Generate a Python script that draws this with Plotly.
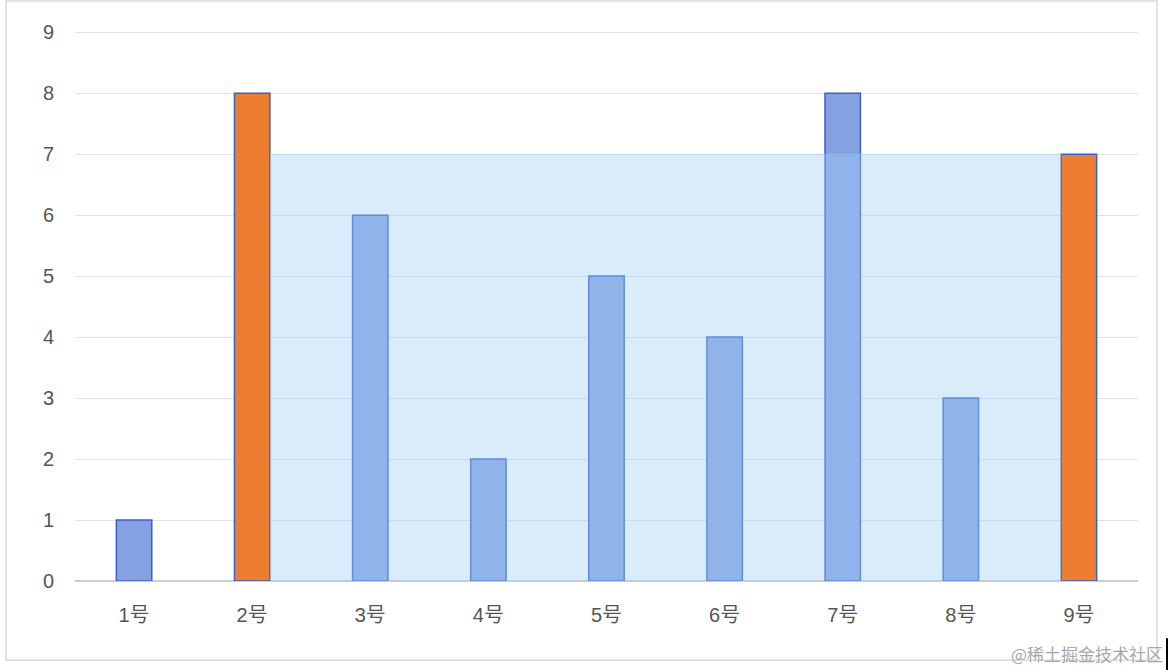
import plotly.graph_objects as go

categories = ["1号", "2号", "3号", "4号", "5号", "6号", "7号", "8号", "9号"]
heights = [1, 8, 6, 2, 5, 4, 8, 3, 7]
left_idx = 1
right_idx = 8
y_ticks = [0, 1, 2, 3, 4, 5, 6, 7, 8, 9]

BAR_W = 0.3
blue_fill = "#86a1e2"
blue_line = "#3a5fcc"
orange = "#ed7d31"

xs = list(range(len(categories)))
colors = [orange if i in (left_idx, right_idx) else blue_fill for i in xs]

fig = go.Figure()
fig.add_trace(go.Bar(
    x=xs, y=heights, width=BAR_W,
    marker=dict(color=colors, line=dict(color=blue_line, width=1.5)),
    hoverinfo="skip", showlegend=False,
))

# water area between the two chosen bars
level = min(heights[left_idx], heights[right_idx])
xa = [left_idx + BAR_W / 2, right_idx - BAR_W / 2]
fig.add_trace(go.Scatter(
    x=xa, y=[level, level], mode="lines",
    line=dict(color="rgba(150,200,240,0.35)", width=1),
    fill="tozeroy", fillcolor="rgba(160,208,244,0.40)",
    hoverinfo="skip", showlegend=False,
))

font_family = "'Liberation Sans', Arial, 'Noto Sans CJK SC', sans-serif"

fig.update_layout(
    width=1172, height=670,
    margin=dict(l=75, r=34, t=31, b=89),
    paper_bgcolor="white", plot_bgcolor="white",
    font=dict(family=font_family, size=20, color="#555555"),
    xaxis=dict(
        range=[-0.5, len(categories) - 0.5],
        tickmode="array", tickvals=xs, ticktext=categories,
        showgrid=False, zeroline=False,
        showline=False, ticks="",
        tickfont=dict(size=20, color="#555555"),
        ticklabelstandoff=20,
    ),
    yaxis=dict(
        range=[0, 9.02], tickmode="array", tickvals=y_ticks,
        showgrid=True, gridcolor="#e3e3e3", gridwidth=1,
        zeroline=True, zerolinecolor="#cccccc", zerolinewidth=1.5,
        ticks="", ticklen=0, tickfont=dict(size=20, color="#555555"),
        ticklabelstandoff=20,
    ),
    shapes=[
        dict(type="rect", xref="paper", yref="paper",
             x0=-0.0649, x1=1.0179, y0=-0.1439, y1=1.0546,
             line=dict(color="#d9d9d9", width=1.5), fillcolor="rgba(0,0,0,0)",
             layer="below"),
        dict(type="line", xref="paper", yref="paper",
             x0=1.0273, x1=1.0273, y0=-0.104, y1=-0.162,
             line=dict(color="black", width=2)),
    ],
    annotations=[
        dict(text="@稀土掘金技术社区", xref="paper", yref="paper",
             x=1.0254, y=-0.131, xanchor="right", yanchor="middle",
             showarrow=False,
             font=dict(family="'Noto Sans CJK SC', sans-serif", size=17, color="#a8a8a8")),
    ],
)

fig.write_html("out.html", config={"displayModeBar": False},
               post_script="document.body.style.margin='0';")
